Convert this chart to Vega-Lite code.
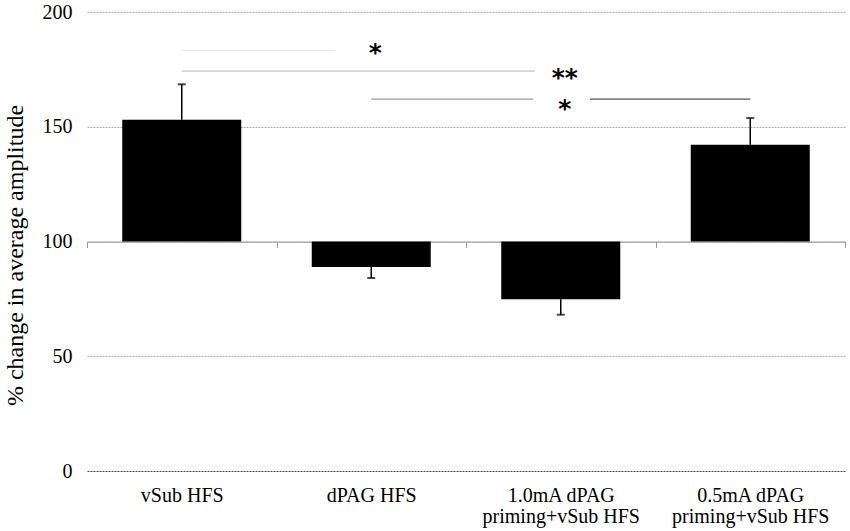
{
  "$schema": "https://vega.github.io/schema/vega-lite/v6.json",
  "autosize": "none",
  "padding": {"left": 87, "top": 12, "right": 5, "bottom": 60},
  "width": 758,
  "height": 459,
  "background": "white",
  "config": {
    "view": {"stroke": null},
    "font": "Liberation Serif"
  },
  "datasets": {
    "bars": [
      {"group": "vSub HFS", "value": 153.1, "err": 168.5},
      {"group": "dPAG HFS", "value": 88.9, "err": 84.1},
      {"group": "1.0mA dPAG priming+vSub HFS", "value": 74.8, "err": 68.1},
      {"group": "0.5mA dPAG priming+vSub HFS", "value": 142.2, "err": 153.8}
    ],
    "stars": [
      {"group": "dPAG HFS", "y": 184.5, "label": "*"},
      {"group": "1.0mA dPAG priming+vSub HFS", "y": 173.5, "label": "**"},
      {"group": "1.0mA dPAG priming+vSub HFS", "y": 160, "label": "*"}
    ]
  },
  "encoding": {
    "x": {
      "field": "group",
      "type": "nominal",
      "sort": null,
      "scale": {"paddingInner": 0, "paddingOuter": 0},
      "axis": {
        "title": null,
        "orient": "bottom",
        "offset": -229.5,
        "domainColor": "#999",
        "domainWidth": 1.2,
        "tickColor": "#999",
        "tickSize": 6,
        "tickBand": "extent",
        "labelAngle": 0,
        "labelFontSize": 20,
        "labelColor": "#000",
        "labelPadding": 238,
        "labelLineHeight": 21,
        "labelExpr": "indexof(datum.label, ' priming') > 0 ? [slice(datum.label, 0, indexof(datum.label, ' priming')), slice(datum.label, indexof(datum.label, 'priming'))] : datum.label"
      }
    }
  },
  "layer": [
    {
      "data": {"name": "bars"},
      "mark": {"type": "bar", "color": "#000", "width": {"band": 0.628}},
      "encoding": {
        "y": {
          "field": "value",
          "type": "quantitative",
          "scale": {"domain": [0, 200]},
          "axis": {
            "title": "% change in average amplitude",
            "titleFontSize": 24,
            "titleFontWeight": "normal",
            "titleColor": "#000",
            "titlePadding": 15,
            "titleY": 243,
            "values": [0, 50, 100, 150, 200],
            "domain": false,
            "ticks": false,
            "labelFontSize": 20,
            "labelColor": "#000",
            "labelPadding": 15,
            "gridDash": [2, 1],
            "gridWidth": 1,
            "gridColor": {"condition": {"test": "datum.value === 0", "value": "#444"}, "value": "#aaa"}
          }
        },
        "y2": {"datum": 100}
      }
    },
    {
      "data": {"name": "bars"},
      "mark": {"type": "rule", "color": "#000", "strokeWidth": 1.5},
      "encoding": {
        "y": {"field": "value", "type": "quantitative"},
        "y2": {"field": "err"}
      }
    },
    {
      "data": {"name": "bars"},
      "mark": {"type": "tick", "color": "#000", "size": 8, "thickness": 2},
      "encoding": {
        "y": {"field": "err", "type": "quantitative"}
      }
    },
    {
      "data": {"values": [{"from": "vSub HFS", "to": "dPAG HFS", "y": 183.3}]},
      "mark": {"type": "rule", "color": "#e4e4e4", "strokeWidth": 1},
      "encoding": {
        "x": {"field": "from", "type": "nominal", "bandPosition": 0.5},
        "x2": {"field": "to", "bandPosition": 0.306},
        "y": {"field": "y", "type": "quantitative"}
      }
    },
    {
      "data": {"values": [{"from": "vSub HFS", "to": "1.0mA dPAG priming+vSub HFS", "y": 174.2}]},
      "mark": {"type": "rule", "color": "#c4c4c4", "strokeWidth": 1.2},
      "encoding": {
        "x": {"field": "from", "type": "nominal", "bandPosition": 0.5},
        "x2": {"field": "to", "bandPosition": 0.364},
        "y": {"field": "y", "type": "quantitative"}
      }
    },
    {
      "data": {"values": [{"from": "dPAG HFS", "to": "1.0mA dPAG priming+vSub HFS", "y": 162}]},
      "mark": {"type": "rule", "color": "#999", "strokeWidth": 1.3},
      "encoding": {
        "x": {"field": "from", "type": "nominal", "bandPosition": 0.5},
        "x2": {"field": "to", "bandPosition": 0.354},
        "y": {"field": "y", "type": "quantitative"}
      }
    },
    {
      "data": {"values": [{"from": "1.0mA dPAG priming+vSub HFS", "to": "0.5mA dPAG priming+vSub HFS", "y": 162}]},
      "mark": {"type": "rule", "color": "#555", "strokeWidth": 1.3},
      "encoding": {
        "x": {"field": "from", "type": "nominal", "bandPosition": 0.654},
        "x2": {"field": "to", "bandPosition": 0.5},
        "y": {"field": "y", "type": "quantitative"}
      }
    },
    {
      "data": {"name": "stars"},
      "mark": {"type": "text", "fontSize": 25, "fontWeight": "bold", "font": "DejaVu Sans", "baseline": "middle", "align": "center", "dx": 4, "dy": 5, "color": "#000"},
      "encoding": {
        "y": {"field": "y", "type": "quantitative"},
        "text": {"field": "label"}
      }
    }
  ]
}
